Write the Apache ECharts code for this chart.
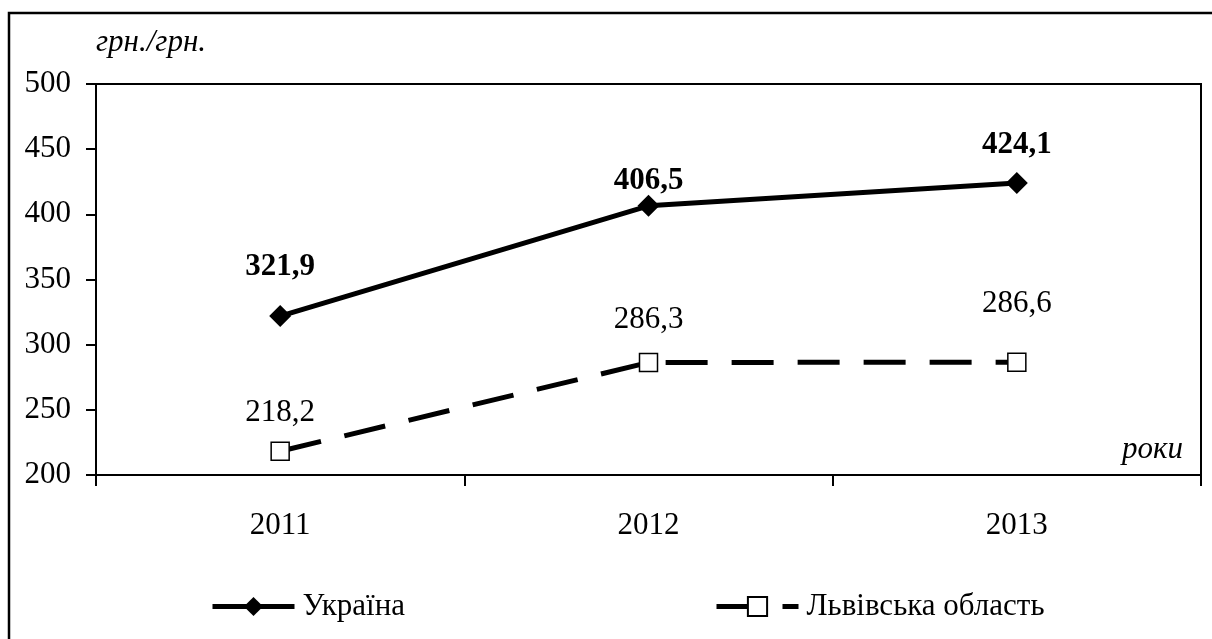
<!DOCTYPE html>
<html>
<head>
<meta charset="utf-8">
<script src="https://cdn.jsdelivr.net/npm/echarts@6/dist/echarts.min.js"></script>
<style>
  html, body { margin: 0; padding: 0; background: #fff; }
  #chart { width: 1212px; height: 639px; }
</style>
</head>
<body>
<div id="chart"></div>
<script>
// дані
var years = ['2011', '2012', '2013']
var ukraineValues = [321.9, 406.5, 424.1]
var lvivValues = [218.2, 286.3, 286.6]

// відступи підписів над точками (підібрано по картинці)
var ukraineLabelGap = [23, -2, 11]
var lvivLabelGap = [13, 17, 33]

var serif = 'Liberation Serif'
var fontSize = 31

function fmt(v) {
  return String(v).replace('.', ',')
}

function buildData(values, gaps) {
  return values.map(function (v, i) {
    return { value: v, label: { distance: gaps[i] } }
  })
}

var myChart = echarts.init(document.getElementById('chart'))

var legendBase = {
  top: 591,
  padding: 0,
  itemWidth: 82,
  itemHeight: 24,
  lineStyle: { width: 5 },
  textStyle: { fontFamily: serif, fontSize: fontSize, color: '#000', padding: [0, 0, 0, 3] }
}

var option = {
  backgroundColor: '#fff',
  animation: false,
  textStyle: { fontFamily: serif, color: '#000' },
  graphic: [{
    type: 'rect',
    shape: { x: 9, y: 13, width: 1240, height: 700 },
    style: { fill: 'none', stroke: '#000', lineWidth: 2.5 },
    silent: true
  }],
  grid: {
    left: 96,
    right: 11,
    top: 84,
    bottom: 164,
    show: true,
    borderColor: '#000',
    borderWidth: 2,
    containLabel: false
  },
  legend: [
    Object.assign({}, legendBase, { data: ['Україна'], left: 210 }),
    Object.assign({}, legendBase, { data: ['Львівська область'], left: 714 })
  ],
  xAxis: {
    type: 'category',
    data: years,
    boundaryGap: true,
    name: 'роки',
    nameLocation: 'end',
    nameGap: -18,
    nameTextStyle: {
      fontFamily: serif,
      fontStyle: 'italic',
      fontSize: fontSize,
      color: '#000',
      align: 'right',
      verticalAlign: 'bottom',
      padding: [0, 0, 10, 0]
    },
    axisLine: { lineStyle: { color: '#000', width: 2 } },
    axisTick: { show: true, length: 11, lineStyle: { color: '#000', width: 2 } },
    axisLabel: { fontFamily: serif, fontSize: fontSize, color: '#000', margin: 35 },
    splitLine: { show: false }
  },
  yAxis: {
    type: 'value',
    min: 200,
    max: 500,
    interval: 50,
    name: 'грн./грн.',
    nameLocation: 'end',
    nameGap: 41,
    nameTextStyle: {
      fontFamily: serif,
      fontStyle: 'italic',
      fontSize: fontSize,
      color: '#000',
      align: 'left',
      verticalAlign: 'middle'
    },
    axisLine: { show: true, lineStyle: { color: '#000', width: 2 } },
    axisTick: { show: true, length: 10, lineStyle: { color: '#000', width: 2 } },
    axisLabel: { fontFamily: serif, fontSize: fontSize, color: '#000', margin: 25 },
    splitLine: { show: false }
  },
  series: [
    {
      name: 'Україна',
      type: 'line',
      data: buildData(ukraineValues, ukraineLabelGap),
      symbol: 'diamond',
      symbolSize: 22,
      itemStyle: { color: '#000' },
      lineStyle: { color: '#000', width: 5 },
      label: {
        show: true,
        position: 'top',
        fontFamily: serif,
        fontSize: fontSize,
        fontWeight: 'bold',
        color: '#000',
        formatter: function (p) { return fmt(p.value) }
      }
    },
    {
      name: 'Львівська область',
      type: 'line',
      data: buildData(lvivValues, lvivLabelGap),
      symbol: 'rect',
      symbolSize: 18,
      itemStyle: { color: '#fff', borderColor: '#000', borderWidth: 1.5 },
      lineStyle: { color: '#000', width: 5, type: [42, 24] },
      label: {
        show: true,
        position: 'top',
        fontFamily: serif,
        fontSize: fontSize,
        color: '#000',
        formatter: function (p) { return fmt(p.value) }
      }
    }
  ]
}

myChart.setOption(option)
</script>
</body>
</html>
